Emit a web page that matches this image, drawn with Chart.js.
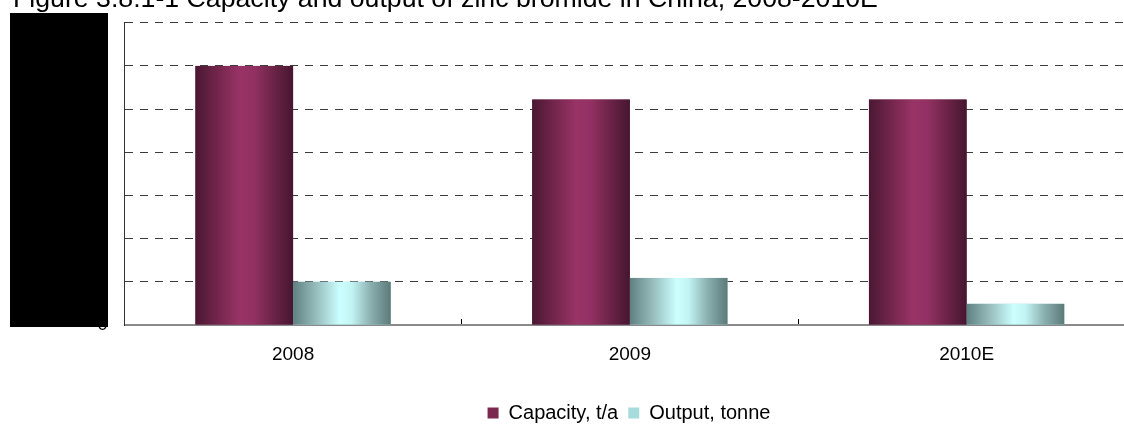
<!DOCTYPE html>
<html>
<head>
<meta charset="utf-8">
<script src="https://cdn.jsdelivr.net/npm/chart.js@4"></script>
<style>
  html, body { margin: 0; padding: 0; overflow: hidden; background: #fff; }
  #wrap { position: relative; width: 1258px; height: 440px; }
</style>
</head>
<body>
<div id="wrap"><canvas id="chart"></canvas></div>
<script>
// data (y labels are hidden in the source)
const years = ['2008', '2009', '2010E'];
const capacity = [600, 522, 522];
const output = [100, 109, 49];
const yMax = 700;
const yStep = 100;
const titleText = 'Figure 3.8.1-1 Capacity and output of zinc bromide in China, 2008-2010E';

const fontName = '"Liberation Sans", Arial, sans-serif';

// horizontal gradient stops, looks like old Excel cylinder-ish fill
const capStops = [[0, '#4a1832'], [0.2, '#6e2449'], [0.45, '#993366'], [0.6, '#923163'], [0.8, '#6c2347'], [1, '#461630']];
const outStops = [[0, '#5f8080'], [0.2, '#8fb3b3'], [0.48, '#ccffff'], [0.6, '#c3f4f4'], [0.8, '#8aaeae'], [1, '#5c7a7a']];

// repaint each bar with its own gradient, using the bar's own geometry
const barGradients = {
    id: 'barGradients',
    afterDatasetsDraw(chart) {
        const ctx = chart.ctx;
        chart.data.datasets.forEach((ds, i) => {
            const stops = i === 0 ? capStops : outStops;
            chart.getDatasetMeta(i).data.forEach(bar => {
                const p = bar.getProps(['x', 'y', 'base', 'width'], true);
                const left = p.x - p.width / 2;
                const g = ctx.createLinearGradient(left, 0, left + p.width, 0);
                stops.forEach(s => g.addColorStop(s[0], s[1]));
                ctx.save();
                ctx.fillStyle = g;
                ctx.fillRect(left, p.y, p.width, p.base - p.y);
                ctx.restore();
            });
        });
    }
};

// title sits half off the top edge in the source, and the y labels are blacked out
const cutTitle = {
    id: 'cutTitle',
    afterDraw(chart) {
        const ctx = chart.ctx;
        ctx.save();
        ctx.fillStyle = '#000';
        ctx.font = '26.7px ' + fontName;
        ctx.textBaseline = 'alphabetic';
        ctx.textAlign = 'left';
        ctx.fillText(titleText, 13, 7);
        ctx.fillRect(10, 13, 98, 314);
        ctx.restore();
    }
};

new Chart(document.getElementById('chart'), {
    type: 'bar',
    data: {
        labels: years,
        datasets: [
            {
                label: 'Capacity, t/a',
                data: capacity,
                backgroundColor: '#7a2850',
                borderWidth: 0,
                categoryPercentage: 0.58,
                barPercentage: 1.0
            },
            {
                label: 'Output, tonne',
                data: output,
                backgroundColor: '#a6dcdc',
                borderWidth: 0,
                categoryPercentage: 0.58,
                barPercentage: 1.0
            }
        ]
    },
    options: {
        responsive: true,
        maintainAspectRatio: false,
        animation: false,
        layout: { padding: { top: 22.7, bottom: 7, left: 0, right: 0 } },
        scales: {
            x: {
                z: 1,
                grid: {
                    offset: true,
                    drawOnChartArea: false,
                    drawTicks: true,
                    tickLength: -6,
                    color: '#000',
                    lineWidth: 1
                },
                border: { display: true, color: '#8a8a8a', width: 2 },
                ticks: {
                    color: '#000',
                    font: { family: fontName, size: 19 },
                    padding: 24
                },
                afterFit(s) { s.height = 68; }
            },
            y: {
                min: 0,
                max: yMax,
                ticks: {
                    stepSize: yStep,
                    color: '#000',
                    font: { family: fontName, size: 19 },
                    padding: 17
                },
                grid: {
                    drawTicks: false,
                    color: ctx => ctx.tick && ctx.tick.value === 0 ? 'rgba(0,0,0,0)' : '#3c3c3c',
                    lineWidth: 1
                },
                border: { display: true, color: '#333', width: 1, dash: [8, 7] },
                afterFit(s) {
                    s.width = 124.7;
                    s.paddingTop = 0;
                    s.paddingBottom = 0;
                }
            },
            // empty right axis only to push the plot past the window edge like the source crop
            spacer: {
                type: 'linear',
                position: 'right',
                display: true,
                grid: { display: false },
                ticks: { display: false },
                border: { display: false },
                afterFit(s) {
                    s.width = 123;
                    s.paddingTop = 0;
                    s.paddingBottom = 0;
                }
            }
        },
        plugins: {
            legend: {
                position: 'bottom',
                labels: {
                    color: '#000',
                    font: { family: fontName, size: 20 },
                    boxWidth: 11,
                    boxHeight: 11,
                    padding: 10
                }
            },
            tooltip: { enabled: false }
        }
    },
    plugins: [barGradients, cutTitle]
});
</script>
</body>
</html>
